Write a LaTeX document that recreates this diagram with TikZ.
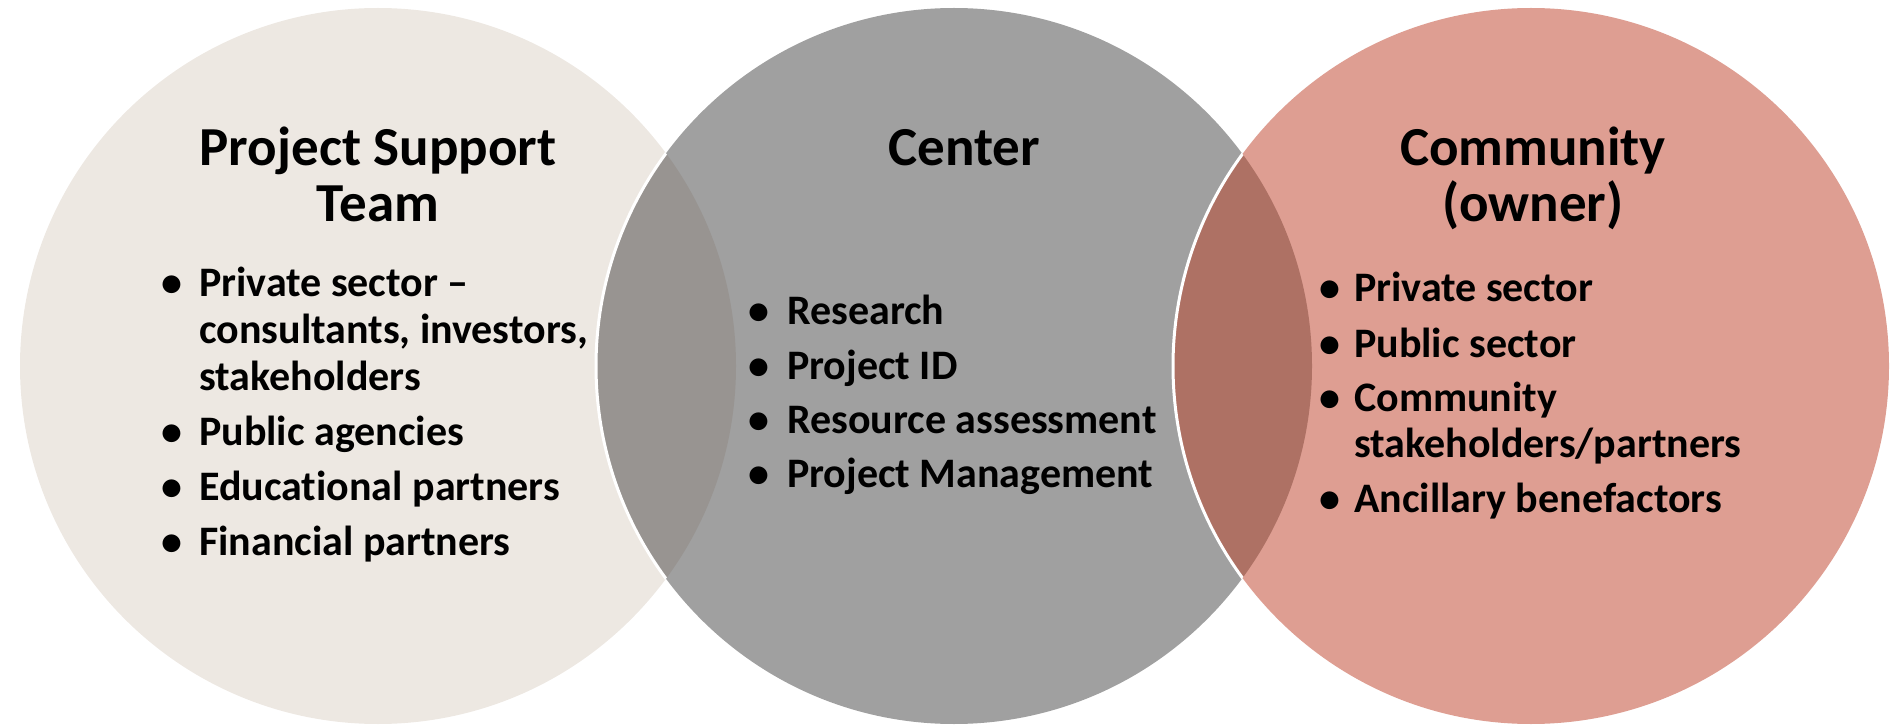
\documentclass[tikz,border=0pt]{standalone}
\usepackage{fontspec}
\setmainfont[Ligatures=NoCommon]{Carlito}
\definecolor{leftc}{HTML}{EDE8E2}
\definecolor{midc}{HTML}{A0A0A0}
\definecolor{rightc}{HTML}{DE9E92}
\definecolor{lmc}{HTML}{989491}
\definecolor{mrc}{HTML}{AE7164}
\tikzset{
  title/.style={anchor=base, font=\fontsize{55}{56}\selectfont\bfseries, inner sep=0pt},
  item/.style={anchor=base west, font=\fontsize{42}{46}\selectfont\bfseries, inner sep=0pt},
  dot/.style={anchor=base, font=\fontsize{42}{46}\selectfont\bfseries, inner sep=0pt},
}
\begin{document}
\begin{tikzpicture}[x=1pt,y=-1pt]
\useasboundingbox (0,0) rectangle (1896,727);
\def\R{358}
\coordinate (cl) at (378,366);
\coordinate (cm) at (954,366);
\coordinate (cr) at (1531,366);
\fill[leftc] (cl) circle (\R);
\fill[midc] (cm) circle (\R);
\fill[rightc] (cr) circle (\R);
\begin{scope}
  \clip (cl) circle (\R);
  \fill[lmc] (cm) circle (\R);
  \draw[white, line width=3pt] (cm) circle (\R);
\end{scope}
\begin{scope}
  \clip (cm) circle (\R);
  \fill[mrc] (cr) circle (\R);
  \draw[white, line width=3pt] (cr) circle (\R);
\end{scope}
% left
\node[title] (lt1) at (378,166) {Project Support};
\node[title] (lt2) at (378,222) {Team};
\node[dot] (lb1) at (172,297) {•};
\node[item] (li1) at (199,297) {Private sector –};
\node[item] (li1b) at (199,343.5) {consultants, investors,};
\node[item] (li1c) at (199,390) {stakeholders};
\node[dot] (lb2) at (172,445) {•};
\node[item] (li2) at (199,445) {Public agencies};
\node[dot] (lb3) at (172,500) {•};
\node[item] (li3) at (199,500) {Educational partners};
\node[dot] (lb4) at (172,555) {•};
\node[item] (li4) at (199,555) {Financial partners};
% center
\node[title] (mt1) at (964,166) {Center};
\node[dot] (mb1) at (759,325) {•};
\node[item] (mi1) at (787,325) {Research};
\node[dot] (mb2) at (759,379) {•};
\node[item] (mi2) at (787,379) {Project ID};
\node[dot] (mb3) at (759,433) {•};
\node[item] (mi3) at (787,433) {Resource assessment};
\node[dot] (mb4) at (759,487) {•};
\node[item] (mi4) at (787,487) {Project Management};
% right
\node[title] (rt1) at (1533,166) {Community};
\node[title] (rt2) at (1533,222) {(owner)};
\node[dot] (rb1) at (1330,302) {•};
\node[item] (ri1) at (1354,302) {Private sector};
\node[dot] (rb2) at (1330,357) {•};
\node[item] (ri2) at (1354,357) {Public sector};
\node[dot] (rb3) at (1330,411) {•};
\node[item] (ri3) at (1354,411) {Community};
\node[item] (ri3b) at (1354,457) {stakeholders/partners};
\node[dot] (rb4) at (1330,512) {•};
\node[item] (ri4) at (1354,512) {Ancillary benefactors};
\end{tikzpicture}
\end{document}
